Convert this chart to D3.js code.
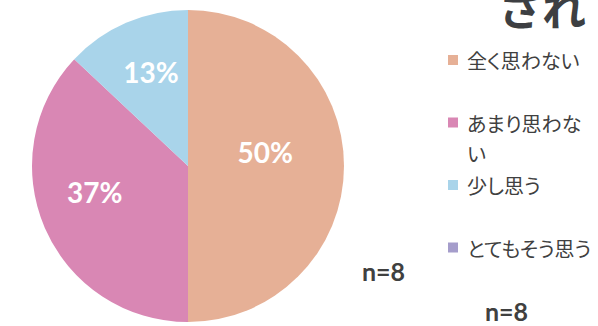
<!DOCTYPE html>
<html>
<head>
<meta charset="utf-8">
<script src="https://cdn.jsdelivr.net/npm/d3@7"></script>
<style>
  html, body { margin: 0; padding: 0; background: #ffffff; }
  svg { display: block; }
  .legend text { font-feature-settings: "palt"; }
</style>
</head>
<body>
<svg id="chart" width="598" height="326"></svg>
<script>
// Survey answers (n=8), share of respondents in percent
const categories = ["全く思わない", "あまり思わない", "少し思う", "とてもそう思う"];
const values = [50, 37, 13, 0];
const colors = ["#e6b096", "#d987b4", "#a9d4ea", "#a59dcb"];
const sampleLabel = "n=8";

const W = 598, H = 326;
const svg = d3.select("#chart");

// Pie geometry
const cx = 188, cy = 166, R = 156;
const pie = d3.pie().sort(null).value(d => d.value);
const arcs = pie(categories.map((c, i) => ({ cat: c, value: values[i], color: colors[i] })));
const arc = d3.arc().innerRadius(0).outerRadius(R);
const labelArc = d3.arc().innerRadius(R * 0.63).outerRadius(R * 0.63);
// small best-fit shifts applied to the in-slice labels
const labelShift = [[-21, -14], [-3, -13], [2, -4], [0, 0]];

const g = svg.append("g").attr("transform", `translate(${cx},${cy})`);
g.selectAll("path.slice")
  .data(arcs.filter(d => d.data.value > 0))
  .join("path")
  .attr("class", "slice")
  .attr("d", arc)
  .attr("fill", d => d.data.color);

g.selectAll("text.pct")
  .data(arcs.filter(d => d.data.value > 0))
  .join("text")
  .attr("class", "pct")
  .attr("x", d => labelArc.centroid(d)[0] + labelShift[d.index][0])
  .attr("y", d => labelArc.centroid(d)[1] + labelShift[d.index][1])
  .attr("text-anchor", "middle")
  .attr("dominant-baseline", "central")
  .attr("font-family", "Lato, 'Open Sans', sans-serif")
  .attr("font-weight", "bold")
  .attr("font-size", 28)
  .attr("fill", "#ffffff")
  .text(d => d.data.value + "%");

// Partially visible heading at the top right
svg.append("text")
  .attr("x", 498).attr("y", 26)
  .attr("font-family", "'Noto Sans CJK JP', sans-serif")
  .attr("font-weight", "bold")
  .attr("font-size", 44)
  .attr("fill", "#3d3f42")
  .text("され");

// Legend
const legendX = 448, legendTextX = 467, legendTop = 60, legendStep = 62.5;
const maxTextW = 128, lineH = 30;
const legend = svg.append("g").attr("class", "legend")
  .attr("font-family", "'Noto Sans CJK JP', sans-serif");
categories.forEach((c, i) => {
  const y = legendTop + i * legendStep;
  legend.append("rect")
    .attr("x", legendX).attr("y", y - 5)
    .attr("width", 10).attr("height", 10)
    .attr("fill", colors[i]);
  const t = legend.append("text")
    .attr("x", legendTextX).attr("y", y)
    .attr("dominant-baseline", "central")
    .attr("font-size", 20)
    .attr("fill", "#404040");
  // wrap character by character when the entry is too wide
  let line = "", lines = [];
  const probe = t.append("tspan");
  for (const ch of c) {
    probe.text(line + ch);
    if (probe.node().getComputedTextLength() > maxTextW && line) {
      lines.push(line); line = ch;
    } else line += ch;
  }
  lines.push(line);
  probe.remove();
  lines.forEach((ln, k) => {
    t.append("tspan").attr("x", legendTextX).attr("y", y + k * lineH).text(ln);
  });
});

// Sample size notes
const nStyle = sel => sel
  .attr("font-family", "Lato, 'Open Sans', sans-serif")
  .attr("font-weight", "bold")
  .attr("font-size", 25)
  .attr("fill", "#404040");
svg.append("text").attr("x", 362).attr("y", 281).call(nStyle).text(sampleLabel);
svg.append("text").attr("x", 485).attr("y", 321).call(nStyle).text(sampleLabel);
</script>
</body>
</html>
